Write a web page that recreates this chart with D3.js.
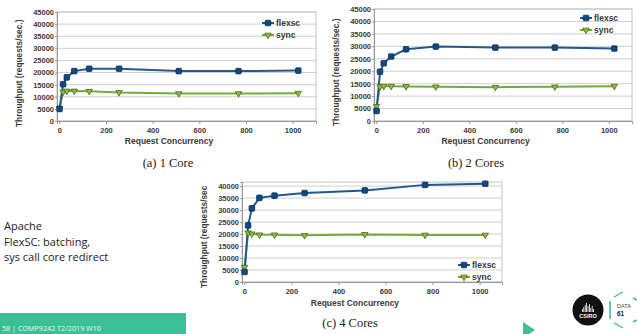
<!DOCTYPE html>
<html>
<head>
<meta charset="utf-8">
<script src="https://cdn.jsdelivr.net/npm/d3@7"></script>
<style>
  html, body { margin: 0; padding: 0; background: #fff; }
  #viz { width: 637px; height: 334px; }
</style>
</head>
<body>
<div id="viz"></div>
<script>
//Datos
const concurrency = [1, 16, 32, 64, 128, 256, 512, 768, 1024];

const flexsc1Core = [5000, 15200, 18000, 20600, 21600, 21600, 20600, 20600, 20800];
const sync1Core = [5200, 12000, 12400, 12400, 12300, 11800, 11350, 11350, 11500];

const flexsc2Cores = [4000, 19800, 23200, 25900, 28800, 29900, 29500, 29500, 29100];
const sync2Cores = [5900, 13800, 14000, 14000, 13900, 13750, 13600, 13750, 14000];

const flexsc4Cores = [4200, 23600, 30700, 35100, 36000, 37100, 38200, 40500, 41000];
const sync4Cores = [6200, 20500, 20100, 19700, 19700, 19450, 19850, 19600, 19600];

const xTicks = [0, 200, 400, 600, 800, 1000];
const yTicks45 = [0, 5000, 10000, 15000, 20000, 25000, 30000, 35000, 40000, 45000];
const yTicks40 = [0, 5000, 10000, 15000, 20000, 25000, 30000, 35000, 40000];

const seriesNames = ['flexsc', 'sync'];
const captions = ['(a) 1 Core', '(b) 2 Cores', '(c) 4 Cores'];

//Colores fijos
const COLOR_FLEX_LINE = '#23588f',
COLOR_FLEX_MARK = '#0f4a85',
COLOR_FLEX_EDGE = '#07264a',
COLOR_SYNC_LINE = '#6fae3c',
COLOR_SYNC_MARK = '#8dbd3a',
COLOR_SYNC_EDGE = '#3d5a12',
COLOR_GRID = '#cfcfcf',
COLOR_TEXT = '#3a3a3a',
COLOR_TEAL = '#3bbf95';

const SANS = '"Liberation Sans", Arial, sans-serif';
const SERIF = '"Liberation Serif", "DejaVu Serif", "Times New Roman", serif';

let svg = d3.select('#viz').append('svg')
    .attr('width', 637)
    .attr('height', 334)
    .style('font-family', SANS);

//Paneles (posición de cada gráfico)
const panels = [
    { flex: flexsc1Core, sync: sync1Core, caption: captions[0], yTicks: yTicks45, yMax: 45000,
      left: 57, right: 316, top: 12, bottom: 121, xDom: [-10, 1100],
      yLabel: 'Throughput (requests/sec.)', yLabelX: 19, yLabelBottom: 127,
      xTitleY: 144, capX: 168, capY: 167, tickY: 131, legendX: 268, legendY: 23 },
    { flex: flexsc2Cores, sync: sync2Cores, caption: captions[1], yTicks: yTicks45, yMax: 45000,
      left: 374, right: 632, top: 9, bottom: 121, xDom: [-10, 1100],
      yLabel: 'Throughput (requests/sec.)', yLabelX: 336, yLabelBottom: 126,
      xTitleY: 144, capX: 476, capY: 167, tickY: 131, legendX: 586, legendY: 18 },
    { flex: flexsc4Cores, sync: sync4Cores, caption: captions[2], yTicks: yTicks40, yMax: 41700,
      left: 242, right: 502, top: 182, bottom: 282, xDom: [-10, 1095],
      yLabel: 'Throughput (requests/sec', yLabelX: 204, yLabelBottom: 288,
      xTitleY: 306, capX: 350, capY: 327, tickY: 292, legendX: 464, legendY: 265 }
];

function drawPanel(p) {
    let g = svg.append('g');

    let x = d3.scaleLinear().domain(p.xDom).range([p.left, p.right]);
    let y = d3.scaleLinear().domain([0, p.yMax]).range([p.bottom, p.top]);

    //Rejilla
    g.append('g')
        .selectAll('line')
        .data(p.yTicks)
        .enter()
        .append('line')
        .attr('x1', p.left).attr('x2', p.right)
        .attr('y1', d => y(d)).attr('y2', d => y(d))
        .attr('stroke', COLOR_GRID)
        .attr('stroke-width', 1);

    //Marco
    g.append('rect')
        .attr('x', p.left).attr('y', p.top)
        .attr('width', p.right - p.left).attr('height', p.bottom - p.top)
        .attr('fill', 'none')
        .attr('stroke', '#c4c4c4');

    //Eje X
    let xAxis = g.append('g')
        .attr('transform', 'translate(0,' + p.bottom + ')')
        .call(d3.axisBottom(x).tickValues(xTicks).tickSize(3).tickFormat(d3.format('d')));
    xAxis.select('.domain').attr('stroke', '#999');
    xAxis.selectAll('line').attr('stroke', '#999');
    xAxis.selectAll('text')
        .attr('y', p.tickY - p.bottom)
        .attr('dy', '0.32em')
        .attr('fill', COLOR_TEXT)
        .style('font-size', '7.5px')
        .style('font-weight', 'bold')
        .style('font-family', SANS);

    //Eje Y
    let yAxis = g.append('g')
        .attr('transform', 'translate(' + p.left + ',0)')
        .call(d3.axisLeft(y).tickValues(p.yTicks).tickSize(2).tickPadding(1).tickFormat(d3.format('d')));
    yAxis.select('.domain').attr('stroke', '#999');
    yAxis.selectAll('line').attr('stroke', '#999');
    yAxis.selectAll('text')
        .attr('fill', COLOR_TEXT)
        .style('font-size', '7.5px')
        .style('font-weight', 'bold')
        .style('font-family', SANS);

    //Títulos de ejes
    g.append('text')
        .attr('transform', 'translate(' + p.yLabelX + ',' + p.yLabelBottom + ') rotate(-90)')
        .attr('text-anchor', 'start')
        .attr('dy', '0.35em')
        .attr('fill', COLOR_TEXT)
        .style('font-size', '8.3px')
        .style('font-weight', 'bold')
        .text(p.yLabel);

    g.append('text')
        .attr('x', x(470)).attr('y', p.xTitleY)
        .attr('text-anchor', 'middle')
        .attr('fill', COLOR_TEXT)
        .style('font-size', '8.5px')
        .style('font-weight', 'bold')
        .text('Request Concurrency');

    g.append('text')
        .attr('x', p.capX).attr('y', p.capY)
        .attr('text-anchor', 'middle')
        .attr('fill', '#222')
        .style('font-size', '12.5px')
        .style('font-family', SERIF)
        .text(p.caption);

    //Líneas
    let line = d3.line()
        .x((d, i) => x(concurrency[i]))
        .y(d => y(d));

    g.append('path').datum(p.sync)
        .attr('d', line)
        .attr('fill', 'none')
        .attr('stroke', COLOR_SYNC_LINE)
        .attr('stroke-width', 2);

    g.append('path').datum(p.flex)
        .attr('d', line)
        .attr('fill', 'none')
        .attr('stroke', COLOR_FLEX_LINE)
        .attr('stroke-width', 2);

    let tri = d3.symbol().type(d3.symbolTriangle).size(18);

    g.selectAll('.syncMark')
        .data(p.sync)
        .enter()
        .append('path')
        .attr('class', 'syncMark')
        .attr('d', tri)
        .attr('transform', (d, i) => 'translate(' + x(concurrency[i]) + ',' + y(d) + ') rotate(180)')
        .attr('fill', COLOR_SYNC_MARK)
        .attr('stroke', COLOR_SYNC_EDGE)
        .attr('stroke-width', 0.7);

    g.selectAll('.flexMark')
        .data(p.flex)
        .enter()
        .append('rect')
        .attr('class', 'flexMark')
        .attr('x', (d, i) => x(concurrency[i]) - 2.8)
        .attr('y', d => y(d) - 2.8)
        .attr('width', 5.6).attr('height', 5.6)
        .attr('rx', 0.8)
        .attr('fill', COLOR_FLEX_MARK)
        .attr('stroke', COLOR_FLEX_EDGE)
        .attr('stroke-width', 0.7);

    //Leyenda
    let leg = g.append('g').attr('transform', 'translate(' + p.legendX + ',' + p.legendY + ')');
    seriesNames.forEach(function(name, i) {
        let row = leg.append('g').attr('transform', 'translate(0,' + (i * 12) + ')');
        let isFlex = name == 'flexsc';
        row.append('line')
            .attr('x1', -6).attr('x2', 6)
            .attr('stroke', isFlex ? COLOR_FLEX_LINE : COLOR_SYNC_LINE)
            .attr('stroke-width', 2);
        if (isFlex) {
            row.append('rect')
                .attr('x', -2.8).attr('y', -2.8)
                .attr('width', 5.6).attr('height', 5.6)
                .attr('rx', 0.8)
                .attr('fill', COLOR_FLEX_MARK)
                .attr('stroke', COLOR_FLEX_EDGE)
                .attr('stroke-width', 0.7);
        } else {
            row.append('path')
                .attr('d', tri)
                .attr('transform', 'rotate(180)')
                .attr('fill', COLOR_SYNC_MARK)
                .attr('stroke', COLOR_SYNC_EDGE)
                .attr('stroke-width', 0.7);
        }
        row.append('text')
            .attr('x', 8).attr('dy', '0.35em')
            .attr('fill', COLOR_TEXT)
            .style('font-size', '8.5px')
            .style('font-weight', 'bold')
            .text(name);
    });
}

panels.forEach(drawPanel);

/////
// Resto de la diapositiva
/////
const slideLines = ['Apache', 'FlexSC: batching,', 'sys call core redirect'];
svg.append('g').selectAll('text')
    .data(slideLines)
    .enter()
    .append('text')
    .attr('x', 4)
    .attr('y', (d, i) => 230 + i * 15.5)
    .attr('fill', '#222')
    .style('font-family', '"Open Sans", "Noto Sans", sans-serif')
    .style('font-size', '11px')
    .text(d => d);

//Pie
svg.append('rect')
    .attr('x', 0).attr('y', 313)
    .attr('width', 186).attr('height', 21)
    .attr('fill', COLOR_TEAL);
svg.append('text')
    .attr('x', 2).attr('y', 331)
    .attr('fill', '#eaf7f1')
    .style('font-family', '"Open Sans", "Noto Sans", sans-serif')
    .style('font-size', '7.2px')
    .text('58  |   COMP9242 T2/2019 W10');

svg.append('path')
    .attr('d', 'M523,322 L535,330 L523,338 Z')
    .attr('fill', COLOR_TEAL);

//Logo CSIRO
let csiro = svg.append('g').attr('transform', 'translate(588,310)');
csiro.append('circle').attr('r', 15.5).attr('fill', '#111');
const barH = [3, 5, 7, 9, 6, 8, 4, 6, 3];
csiro.selectAll('.bar')
    .data(barH)
    .enter()
    .append('rect')
    .attr('x', (d, i) => -6 + i * 1.4)
    .attr('y', d => 2 - d)
    .attr('width', 0.8)
    .attr('height', d => d)
    .attr('fill', '#fff');
csiro.append('text')
    .attr('y', 8)
    .attr('text-anchor', 'middle')
    .attr('fill', '#fff')
    .style('font-size', '5.5px')
    .style('font-weight', 'bold')
    .text('CSIRO');

//Logo Data61
let data61 = svg.append('g');
data61.append('line')
    .attr('x1', 610).attr('x2', 610).attr('y1', 301).attr('y2', 319)
    .attr('stroke', COLOR_TEAL).attr('stroke-width', 1.6);
data61.append('path')
    .attr('d', 'M614,297 L623,292 M614,323 L623,328 M633,298 L637,300 M633,322 L637,320')
    .attr('fill', 'none')
    .attr('stroke', COLOR_TEAL).attr('stroke-width', 1.4);
data61.append('text')
    .attr('x', 617).attr('y', 308)
    .attr('fill', '#444')
    .style('font-size', '5.5px')
    .text('DATA');
data61.append('text')
    .attr('x', 617).attr('y', 316)
    .attr('fill', '#222')
    .style('font-size', '6.5px')
    .style('font-weight', 'bold')
    .text('61');
</script>
</body>
</html>
